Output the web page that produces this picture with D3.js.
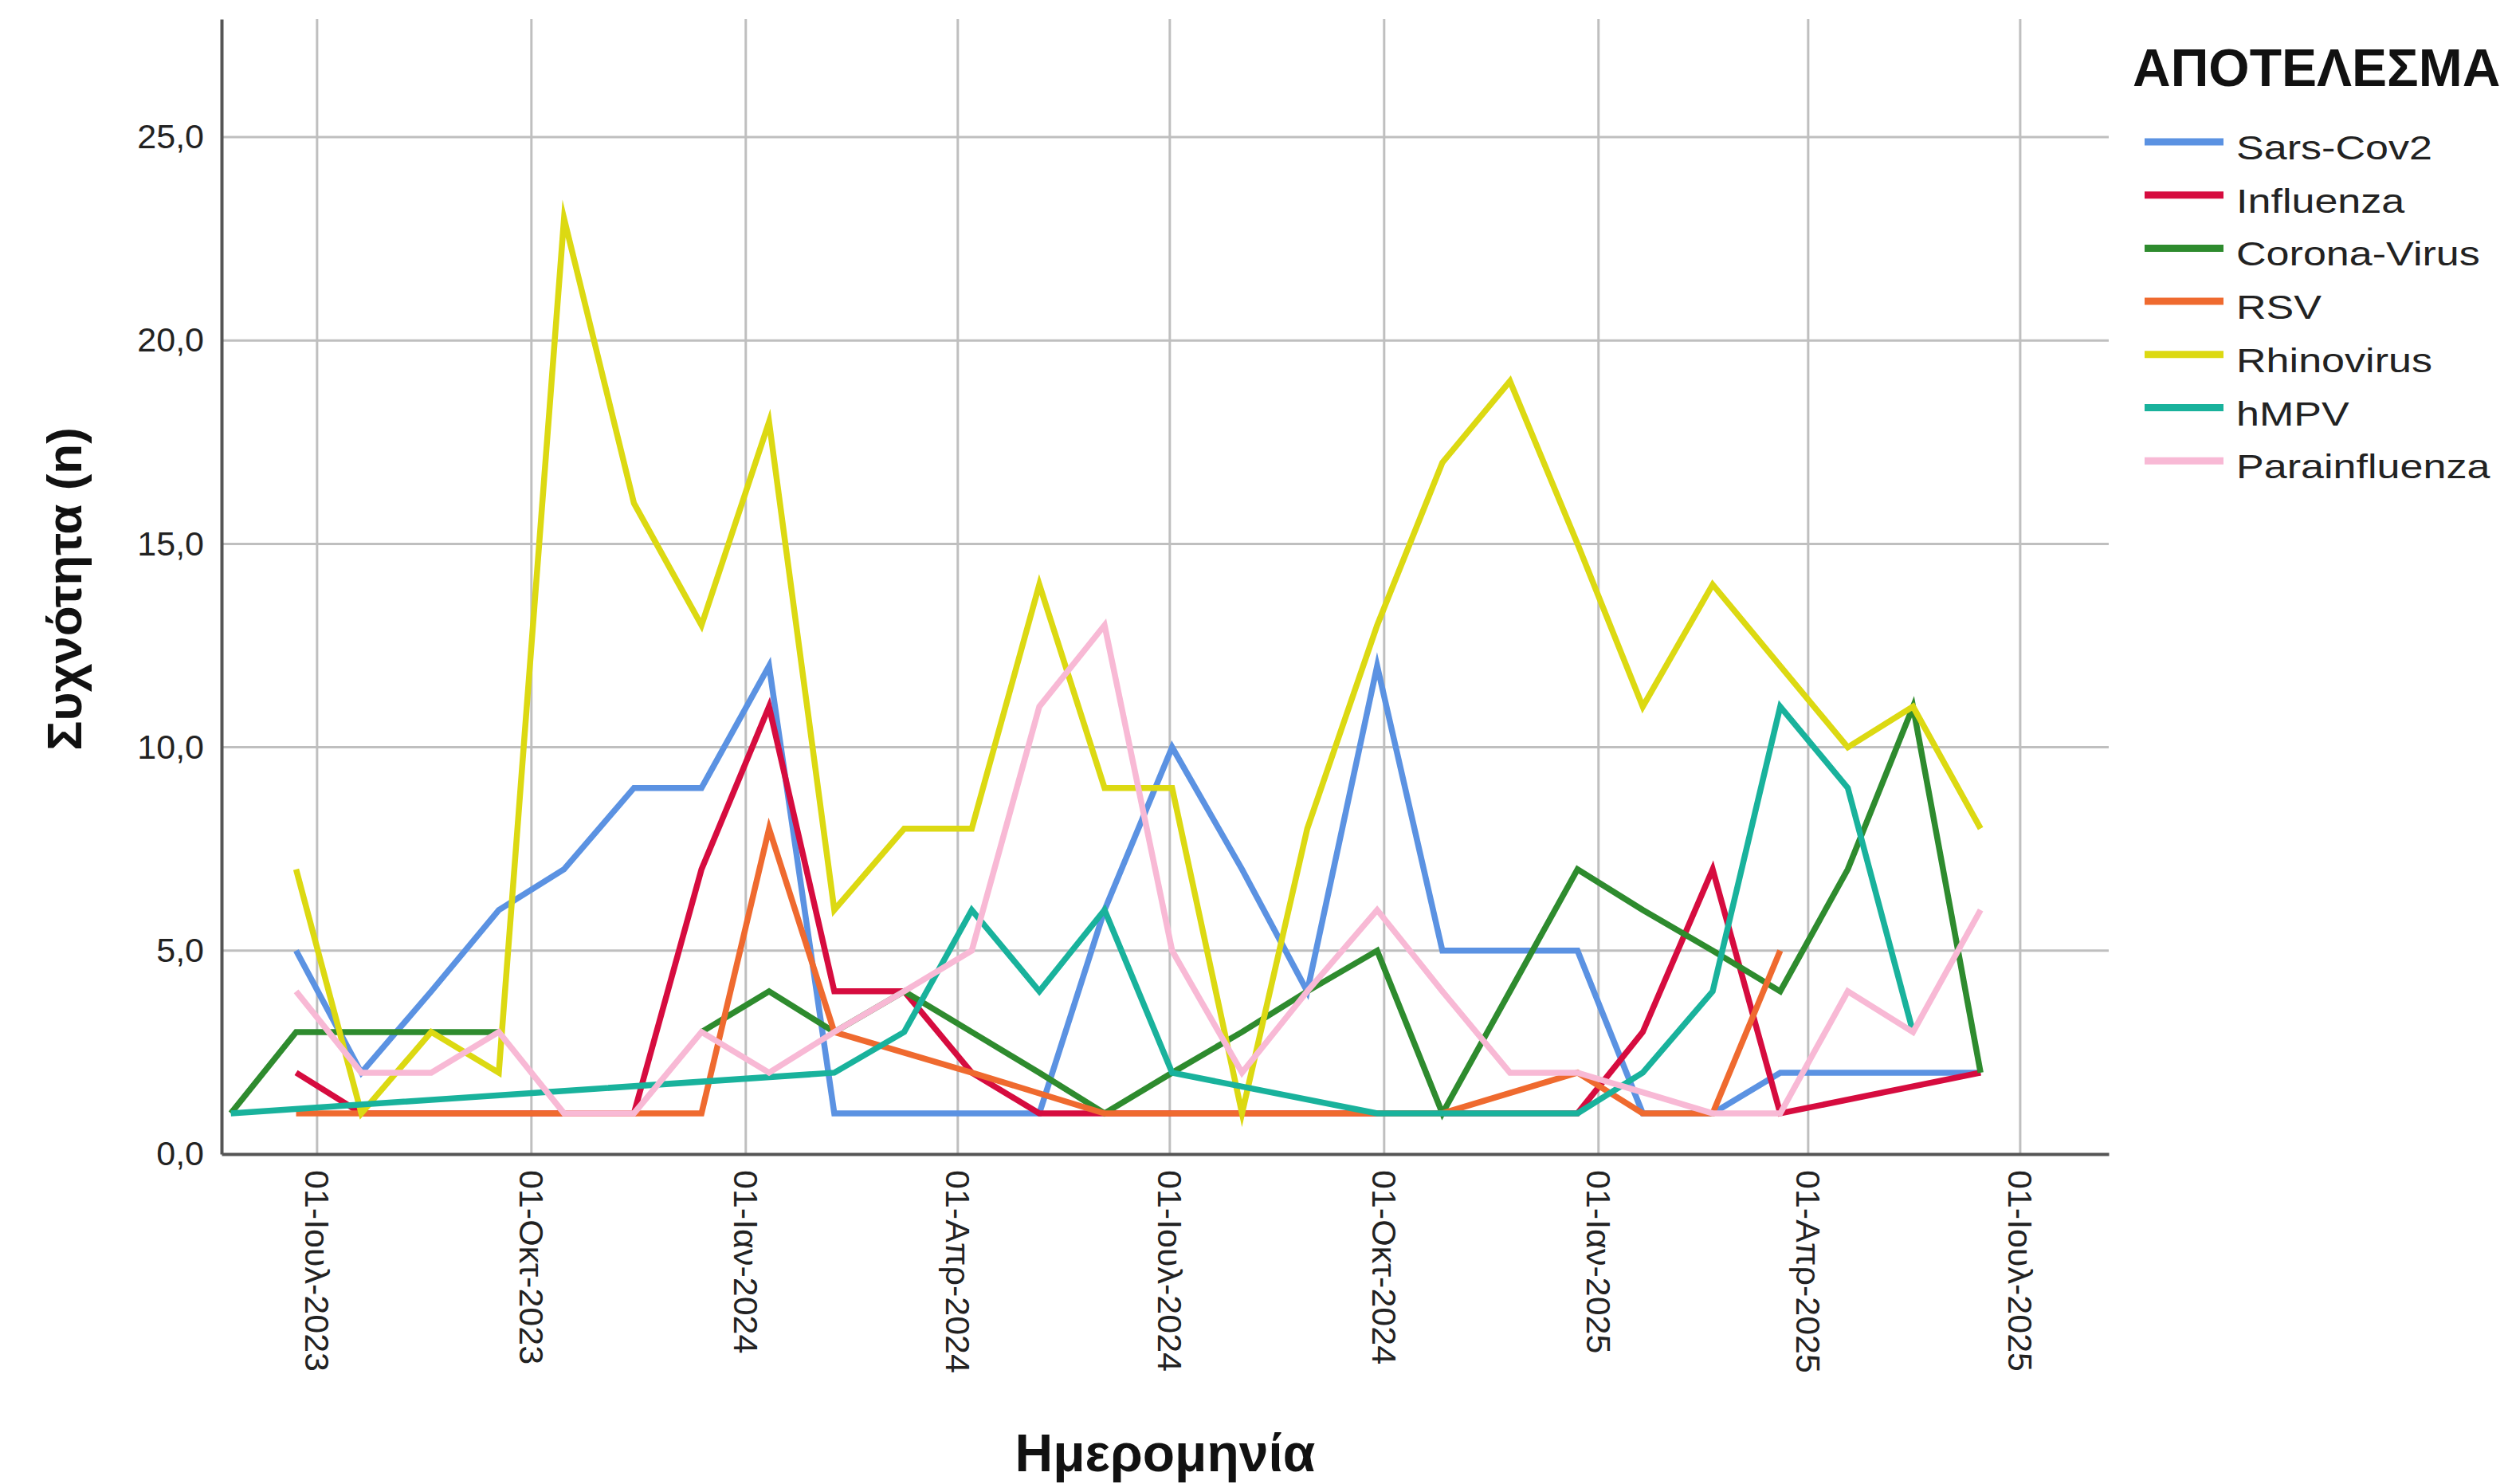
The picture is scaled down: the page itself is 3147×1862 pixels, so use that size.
<!DOCTYPE html>
<html>
<head>
<meta charset="utf-8">
<script src="https://cdn.jsdelivr.net/npm/d3@7"></script>
<style>
  body { margin: 0; background: #fff; }
  text { font-family: "Liberation Sans", Arial, sans-serif; }
</style>
</head>
<body>
<div id="chart"></div>
<script>
const parseDate = d3.timeParse("%Y-%m-%d");
const BREAK = "break"; // missing value that breaks the line (null = no point, line continues)

// sampling dates
const dates = [
  "2023-05-25", "2023-06-22", "2023-07-20", "2023-08-19", "2023-09-17", "2023-10-15",
  "2023-11-14", "2023-12-13", "2024-01-11", "2024-02-08", "2024-03-09", "2024-04-07",
  "2024-05-06", "2024-06-03", "2024-07-02", "2024-08-01", "2024-08-29", "2024-09-28",
  "2024-10-26", "2024-11-24", "2024-12-23", "2025-01-20", "2025-02-19", "2025-03-20",
  "2025-04-18", "2025-05-16", "2025-06-14"
];

const sarsCov2 = [null, 5, 2, 4, 6, 7, 9, 9, 12, 1, 1, 1, 1, 6, 10, 7, 4, 12, 5, 5, 5, 1, 1, 2, 2, 2, 2];
const influenza = [null, 2, 1, 1, 1, 1, 1, 7, 11, 4, 4, 2, 1, 1, 1, 1, 1, 1, 1, 1, 1, 3, 7, 1, null, null, 2];
const coronaVirus = [1, 3, 3, 3, 3, BREAK, BREAK, 3, 4, 3, 4, 3, 2, 1, 2, 3, 4, 5, 1, 4, 7, 6, 5, 4, 7, 11, 2];
const rsv = [null, 1, 1, 1, 1, 1, 1, 1, 8, 3, null, 2, null, 1, 1, 1, 1, 1, 1, null, 2, 1, 1, 5, null, null, null];
const rhinovirus = [null, 7, 1, 3, 2, 23, 16, 13, 18, 6, 8, 8, 14, 9, 9, 1, 8, 13, 17, 19, 15, 11, 14, 12, 10, 11, 8];
const hmpv = [1, null, null, null, null, null, null, null, null, 2, 3, 6, 4, 6, 2, null, null, 1, 1, 1, 1, 2, 4, 11, 9, 3, null];
const parainfluenza = [null, 4, 2, 2, 3, 1, 1, 3, 2, 3, 4, 5, 11, 13, 5, 2, 4, 6, 4, 2, 2, null, 1, 1, 4, 3, 6];

const seriesNames = ["Sars-Cov2", "Influenza", "Corona-Virus", "RSV", "Rhinovirus", "hMPV", "Parainfluenza"];
const seriesValues = [sarsCov2, influenza, coronaVirus, rsv, rhinovirus, hmpv, parainfluenza];
const seriesColors = ["#5b92e2", "#d60c3f", "#2e8b2e", "#ef6a2f", "#dcd912", "#19b29c", "#f8b9d5"];

const yTicks = [0, 5, 10, 15, 20, 25];
const yTickLabels = ["0,0", "5,0", "10,0", "15,0", "20,0", "25,0"];
const xTickDates = [
  "2023-07-01", "2023-10-01", "2024-01-01", "2024-04-01", "2024-07-01",
  "2024-10-01", "2025-01-01", "2025-04-01", "2025-07-01"
];
const xTickLabels = [
  "01-Ιουλ-2023", "01-Οκτ-2023", "01-Ιαν-2024", "01-Απρ-2024", "01-Ιουλ-2024",
  "01-Οκτ-2024", "01-Ιαν-2025", "01-Απρ-2025", "01-Ιουλ-2025"
];
const xDomain = ["2023-05-21", "2025-08-08"];
const yDomain = [0, 27.9];

const width = 3147;
const height = 1862;
const plotLeft = 278, plotRight = 2646, plotTop = 24, plotBottom = 1448;

const svg = d3.select("#chart")
  .append("svg")
  .attr("width", width)
  .attr("height", height);

const x = d3.scaleTime()
  .domain(xDomain.map(parseDate))
  .range([plotLeft, plotRight]);

const y = d3.scaleLinear()
  .domain(yDomain)
  .range([plotBottom, plotTop]);

// grid
svg.append("g")
  .selectAll("line")
  .data(yTicks.filter((d) => d > 0))
  .enter()
  .append("line")
  .attr("x1", plotLeft)
  .attr("x2", plotRight)
  .attr("y1", (d) => y(d))
  .attr("y2", (d) => y(d))
  .attr("stroke", "#bfbfbf")
  .attr("stroke-width", 3);

svg.append("g")
  .selectAll("line")
  .data(xTickDates.map(parseDate))
  .enter()
  .append("line")
  .attr("x1", (d) => x(d))
  .attr("x2", (d) => x(d))
  .attr("y1", plotTop)
  .attr("y2", plotBottom)
  .attr("stroke", "#bfbfbf")
  .attr("stroke-width", 3);

// axes
const yAxis = svg.append("g")
  .attr("transform", `translate(${plotLeft},0)`)
  .call(d3.axisLeft(y)
    .tickValues(yTicks)
    .tickFormat((d, i) => yTickLabels[i])
    .tickSize(0)
    .tickSizeOuter(0)
    .tickPadding(22));

yAxis.select(".domain").attr("stroke", "#555").attr("stroke-width", 4);
yAxis.selectAll("text")
  .attr("font-size", 43)
  .attr("fill", "#222")
  .attr("font-family", "Liberation Sans, Arial, sans-serif");

const xAxis = svg.append("g")
  .attr("transform", `translate(0,${plotBottom})`)
  .call(d3.axisBottom(x)
    .tickValues(xTickDates.map(parseDate))
    .tickFormat((d, i) => xTickLabels[i])
    .tickSize(0)
    .tickSizeOuter(0));

xAxis.select(".domain").attr("stroke", "#555").attr("stroke-width", 4);
xAxis.selectAll("text")
  .attr("transform", "rotate(90)")
  .attr("x", 20)
  .attr("y", 0)
  .attr("dy", "0.35em")
  .attr("font-size", 43)
  .attr("fill", "#222")
  .attr("font-family", "Liberation Sans, Arial, sans-serif")
  .style("text-anchor", "start");

// lines
const line = d3.line()
  .defined((d) => d.value !== BREAK)
  .x((d) => x(d.date))
  .y((d) => y(d.value));

seriesValues.forEach((values, i) => {
  const points = values
    .map((v, j) => ({ date: parseDate(dates[j]), value: v }))
    .filter((d) => d.value !== null);

  svg.append("path")
    .datum(points)
    .attr("d", line)
    .attr("fill", "none")
    .attr("stroke", seriesColors[i])
    .attr("stroke-width", 7.5)
    .attr("stroke-linejoin", "miter")
    .attr("stroke-miterlimit", 10);
});

// axis titles
svg.append("text")
  .attr("transform", "translate(80,739) rotate(-90)")
  .attr("text-anchor", "middle")
  .attr("dominant-baseline", "central")
  .attr("font-size", 62)
  .attr("font-weight", "bold")
  .attr("fill", "#111")
  .text("Συχνότητα (n)");

svg.append("text")
  .attr("x", (plotLeft + plotRight) / 2)
  .attr("y", 1846)
  .attr("text-anchor", "middle")
  .attr("font-size", 66)
  .attr("font-weight", "bold")
  .attr("fill", "#111")
  .text("Ημερομηνία");

// legend
svg.append("text")
  .attr("x", 2676)
  .attr("y", 108)
  .attr("font-size", 66)
  .attr("font-weight", "bold")
  .attr("fill", "#111")
  .text("ΑΠΟΤΕΛΕΣΜΑ");

const legend = svg.append("g")
  .selectAll("g")
  .data(seriesNames)
  .enter()
  .append("g")
  .attr("transform", (d, i) => `translate(0,${178 + i * 66.7})`);

legend.append("line")
  .attr("x1", 2691)
  .attr("x2", 2790)
  .attr("stroke", (d, i) => seriesColors[i])
  .attr("stroke-width", 9);

legend.append("text")
  .attr("transform", "translate(2806,22) scale(1.24,1)")
  .attr("font-size", 42)
  .attr("fill", "#222")
  .text((d) => d);
</script>
</body>
</html>
